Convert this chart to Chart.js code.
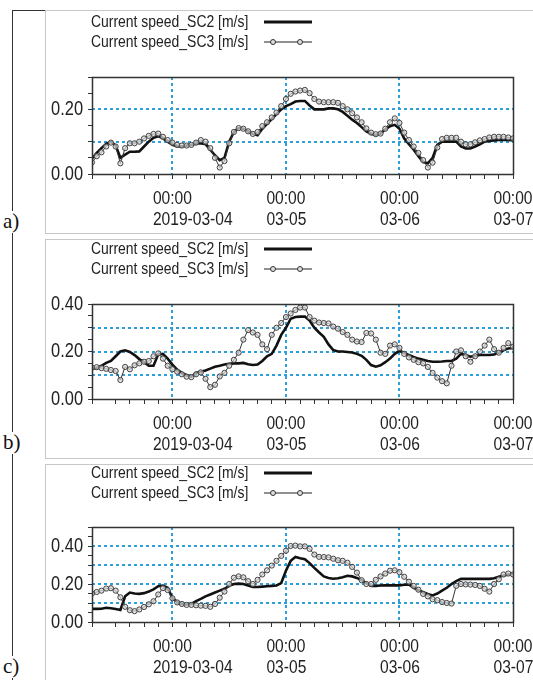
<!DOCTYPE html>
<html>
<head>
<meta charset="utf-8">
<script src="https://cdn.jsdelivr.net/npm/chart.js@4.4.1/dist/chart.umd.min.js"></script>
<style>
  body { margin: 0; width: 533px; height: 680px; overflow: hidden; background: #fff; position: relative; }
  .edge-left { position: absolute; left: 12px; top: 10px; width: 1px; height: 670px; background: #333; }
  .edge-top { position: absolute; left: 12px; top: 10px; width: 521px; height: 1px; background: #333; }
  .panel { position: absolute; left: 45px; width: 520px; border: 1px solid #c8c8c8; }
  .tag { position: absolute; left: 2px; font-family: 'Liberation Serif', serif; font-size: 21px; line-height: 20px; background: #fff; color: #111; padding: 0 1px 2px 1px; }
  .legend { position: absolute; left: 91px; font-family: 'Liberation Sans', Arial, sans-serif; font-size: 17px; color: #222; }
  .legend .row { position: relative; height: 20px; width: 230px; }
  .legend .row span { position: absolute; left: 0; top: 0; line-height: 20px; white-space: nowrap; transform: scaleX(0.82); transform-origin: 0 50%; }
  .legend .row svg { position: absolute; left: 173px; top: 4px; }
  .chartbox { position: absolute; left: 45px; width: 488px; }
</style>
</head>
<body>
<div class="edge-left"></div>
<div class="edge-top"></div>

<div class="panel" style="top:10px;height:222px;"></div>
<div class="panel" style="top:239px;height:218px;"></div>
<div class="panel" style="top:464px;height:230px;"></div>

<div class="chartbox" style="top:10px;height:222px;"><canvas id="chartA"></canvas></div>
<div class="chartbox" style="top:239px;height:218px;"><canvas id="chartB"></canvas></div>
<div class="chartbox" style="top:464px;height:216px;"><canvas id="chartC"></canvas></div>

<div class="legend" style="top:12px;">
  <div class="row"><span>Current speed_SC2 [m/s]</span><svg width="50" height="12"><line x1="0" y1="6" x2="48" y2="6" stroke="#111" stroke-width="3"/></svg></div>
  <div class="row"><span>Current speed_SC3 [m/s]</span><svg width="50" height="12"><line x1="0" y1="6" x2="48" y2="6" stroke="#222" stroke-width="1.2"/><circle cx="9" cy="6" r="2.5" fill="#ddd" stroke="#333"/><circle cx="36" cy="6" r="2.5" fill="#ddd" stroke="#333"/></svg></div>
</div>
<div class="legend" style="top:239px;">
  <div class="row"><span>Current speed_SC2 [m/s]</span><svg width="50" height="12"><line x1="0" y1="6" x2="48" y2="6" stroke="#111" stroke-width="3"/></svg></div>
  <div class="row"><span>Current speed_SC3 [m/s]</span><svg width="50" height="12"><line x1="0" y1="6" x2="48" y2="6" stroke="#222" stroke-width="1.2"/><circle cx="9" cy="6" r="2.5" fill="#ddd" stroke="#333"/><circle cx="36" cy="6" r="2.5" fill="#ddd" stroke="#333"/></svg></div>
</div>
<div class="legend" style="top:463px;">
  <div class="row"><span>Current speed_SC2 [m/s]</span><svg width="50" height="12"><line x1="0" y1="6" x2="48" y2="6" stroke="#111" stroke-width="3"/></svg></div>
  <div class="row"><span>Current speed_SC3 [m/s]</span><svg width="50" height="12"><line x1="0" y1="6" x2="48" y2="6" stroke="#222" stroke-width="1.2"/><circle cx="9" cy="6" r="2.5" fill="#ddd" stroke="#333"/><circle cx="36" cy="6" r="2.5" fill="#ddd" stroke="#333"/></svg></div>
</div>

<div class="tag" style="top:211px;">a)</div>
<div class="tag" style="top:432px;">b)</div>
<div class="tag" style="top:656px;">c)</div>

<script>
// time axis: hours counted from 2019-03-03 00:00, hourly samples
const firstHour = 7;
const lastHour = 96;
const dayTicks = [24, 48, 72, 96];
const timeLabels = ['00:00', '00:00', '00:00', '00:00'];
const dateLabels = ['2019-03-04', '03-05', '03-06', '03-07'];
const yLabelValues = [0, 0.2, 0.4];

// a) current speed [m/s]
const sc2A = [
    0.048, 0.065, 0.08, 0.093, 0.1, 0.088, 0.05, 0.06, 0.069, 0.069,
    0.07, 0.085, 0.1, 0.112, 0.117, 0.11, 0.1, 0.09, 0.085, 0.085,
    0.088, 0.09, 0.094, 0.095, 0.092, 0.075, 0.058, 0.043, 0.05, 0.1,
    0.13, 0.142, 0.14, 0.132, 0.124, 0.12, 0.14, 0.155, 0.17, 0.185,
    0.2, 0.21, 0.216, 0.224, 0.226, 0.226, 0.212, 0.2, 0.2, 0.2,
    0.203, 0.203, 0.2, 0.192, 0.18, 0.168, 0.158, 0.145, 0.132, 0.124,
    0.12, 0.125, 0.138, 0.148, 0.152, 0.14, 0.11, 0.092, 0.075, 0.055,
    0.037, 0.033, 0.05, 0.09, 0.1, 0.1, 0.1, 0.1, 0.085, 0.079,
    0.079, 0.085, 0.092, 0.1, 0.102, 0.104, 0.105, 0.105, 0.105, 0.104
];
const sc3A = [
    0.036, 0.055, 0.067, 0.085, 0.097, 0.085, 0.033, 0.08, 0.095, 0.095,
    0.1, 0.11, 0.118, 0.124, 0.125, 0.115, 0.105, 0.097, 0.09, 0.088,
    0.088, 0.09, 0.097, 0.105, 0.1, 0.08, 0.05, 0.02, 0.04, 0.095,
    0.13, 0.142, 0.14, 0.132, 0.124, 0.13, 0.148, 0.16, 0.175, 0.19,
    0.21, 0.232, 0.248, 0.255, 0.258, 0.26, 0.25, 0.232, 0.224, 0.222,
    0.222, 0.222, 0.22, 0.21, 0.2, 0.188, 0.175, 0.16, 0.141, 0.128,
    0.123, 0.125, 0.14, 0.16, 0.172, 0.158, 0.128, 0.105, 0.085, 0.065,
    0.043, 0.02, 0.035, 0.082, 0.108, 0.112, 0.112, 0.112, 0.1, 0.092,
    0.092, 0.098, 0.104, 0.108, 0.113, 0.115, 0.115, 0.115, 0.113, 0.11
];

// b)
const sc2B = [
    0.128, 0.13, 0.14, 0.152, 0.16, 0.18, 0.2, 0.205, 0.198, 0.185,
    0.168, 0.155, 0.14, 0.14, 0.188, 0.19, 0.17, 0.145, 0.124, 0.11,
    0.1, 0.094, 0.11, 0.115, 0.12, 0.128, 0.136, 0.14, 0.145, 0.148,
    0.15, 0.15, 0.152, 0.146, 0.143, 0.145, 0.16, 0.18, 0.19, 0.225,
    0.27, 0.3, 0.338, 0.345, 0.347, 0.347, 0.33, 0.3, 0.28, 0.262,
    0.23, 0.206, 0.2, 0.2, 0.198, 0.196, 0.19, 0.182, 0.165, 0.143,
    0.136, 0.142, 0.155, 0.17, 0.19, 0.203, 0.195, 0.185, 0.177, 0.17,
    0.165, 0.16, 0.157, 0.157, 0.158, 0.16, 0.16, 0.17, 0.19, 0.185,
    0.178, 0.182, 0.185, 0.185, 0.185, 0.187, 0.195, 0.205, 0.213, 0.215
];
const sc3B = [
    0.132, 0.134, 0.13, 0.127, 0.122, 0.118, 0.08, 0.135, 0.125, 0.142,
    0.15, 0.157, 0.16, 0.18, 0.192, 0.17, 0.14, 0.125, 0.115, 0.104,
    0.094, 0.092, 0.104, 0.112, 0.085, 0.05, 0.06, 0.095, 0.11, 0.14,
    0.165, 0.195, 0.25, 0.29, 0.28, 0.27, 0.23, 0.21, 0.27, 0.3,
    0.32, 0.345, 0.36, 0.375, 0.385, 0.385, 0.345, 0.33, 0.322, 0.32,
    0.318, 0.305, 0.296, 0.282, 0.27, 0.25, 0.242, 0.24, 0.278, 0.276,
    0.25, 0.195, 0.19, 0.225, 0.23, 0.215, 0.19, 0.175, 0.165, 0.155,
    0.15, 0.135, 0.11, 0.09, 0.075, 0.066, 0.14, 0.2, 0.205, 0.18,
    0.157, 0.18, 0.2, 0.225, 0.25, 0.21, 0.195, 0.215, 0.235, 0.22
];

// c)
const sc2C = [
    0.069, 0.069, 0.07, 0.075, 0.072, 0.068, 0.063, 0.135, 0.155, 0.15,
    0.148, 0.152, 0.16, 0.172, 0.188, 0.192, 0.18, 0.125, 0.105, 0.095,
    0.092, 0.095, 0.11, 0.122, 0.135, 0.145, 0.155, 0.165, 0.175, 0.19,
    0.2, 0.202, 0.2, 0.192, 0.185, 0.184, 0.186, 0.188, 0.19, 0.192,
    0.205, 0.27, 0.322, 0.342, 0.335, 0.33, 0.31, 0.285, 0.262, 0.24,
    0.232, 0.228, 0.23, 0.236, 0.243, 0.24, 0.232, 0.22, 0.205, 0.19,
    0.19, 0.192, 0.193, 0.193, 0.193, 0.193, 0.196, 0.198, 0.18, 0.168,
    0.157, 0.147, 0.14, 0.15, 0.165, 0.18, 0.2, 0.215, 0.227, 0.227,
    0.227, 0.227, 0.227, 0.227, 0.227, 0.23, 0.238, 0.245, 0.25, 0.254
];
const sc3C = [
    0.15, 0.158, 0.165, 0.176, 0.178, 0.165, 0.13, 0.08, 0.062, 0.057,
    0.066, 0.079, 0.093, 0.109, 0.145, 0.178, 0.168, 0.125, 0.103, 0.095,
    0.09, 0.09, 0.088, 0.086, 0.085, 0.08, 0.095, 0.128, 0.16, 0.2,
    0.233, 0.24, 0.235, 0.215, 0.2, 0.222, 0.25, 0.272, 0.297, 0.322,
    0.348, 0.375, 0.4, 0.402, 0.398, 0.398, 0.385, 0.355, 0.343, 0.342,
    0.34, 0.333, 0.325, 0.322, 0.312, 0.29, 0.26, 0.22, 0.2, 0.2,
    0.222, 0.24, 0.255, 0.27, 0.272, 0.262, 0.238, 0.212, 0.19, 0.17,
    0.148, 0.135, 0.12, 0.115, 0.105, 0.1, 0.097, 0.19, 0.2, 0.198,
    0.197, 0.195, 0.19, 0.175, 0.16, 0.2, 0.225, 0.25, 0.255, 0.25
];

const SANS = "'Liberation Sans', Arial, sans-serif";
const NARROW = 0.82;          // horizontal squeeze, Arial -> Arial Narrow
const GRID_BLUE = '#2f9fdc';

// text squeezed horizontally to mimic a narrow face
function narrowText(ctx, text, x, y, align) {
    const w = ctx.measureText(text).width * NARROW;
    let left = x;
    if (align === 'center') left = x - w / 2;
    if (align === 'right') left = x - w;
    ctx.save();
    ctx.translate(left, y);
    ctx.scale(NARROW, 1);
    ctx.textAlign = 'left';
    ctx.fillText(text, 0, 0);
    ctx.restore();
    return w;
}

// dashed grid, plot frame and axis labels
const decorPlugin = {
    id: 'decor',
    beforeDatasetsDraw(chart) {
        const { ctx, chartArea: a, scales: { x, y } } = chart;
        ctx.save();
        ctx.strokeStyle = GRID_BLUE;
        ctx.lineWidth = 2;
        ctx.setLineDash([3, 3]);
        dayTicks.filter(d => d < lastHour).forEach(d => {
            const px = Math.round(x.getPixelForValue(d));
            ctx.beginPath();
            ctx.moveTo(px, a.top);
            ctx.lineTo(px, a.bottom);
            ctx.stroke();
        });
        for (let k = 1; k * 0.1 < y.max - 1e-6; k++) {
            const py = Math.round(y.getPixelForValue(k * 0.1));
            ctx.beginPath();
            ctx.moveTo(a.left, py);
            ctx.lineTo(a.right, py);
            ctx.stroke();
        }
        ctx.restore();
    },
    afterDraw(chart) {
        const { ctx, chartArea: a, scales: { x, y } } = chart;
        ctx.save();
        ctx.strokeStyle = '#333';
        ctx.lineWidth = 1.5;
        ctx.strokeRect(Math.round(a.left) + 0.5, Math.round(a.top) + 0.5,
            Math.round(a.right - a.left), Math.round(a.bottom - a.top));

        ctx.fillStyle = '#222';
        ctx.textBaseline = 'middle';
        ctx.font = '20px ' + SANS;
        yLabelValues.filter(v => v <= y.max + 1e-6).forEach(v => {
            narrowText(ctx, v.toFixed(2), a.left - 9, y.getPixelForValue(v), 'right');
        });

        ctx.font = '19px ' + SANS;
        dayTicks.forEach((d, i) => {
            const px = x.getPixelForValue(d);
            const w = ctx.measureText(timeLabels[i]).width * NARROW;
            narrowText(ctx, timeLabels[i], px - w / 2, a.bottom + 25, 'left');
            narrowText(ctx, dateLabels[i], px - w / 2, a.bottom + 46, 'left');
        });
        ctx.restore();
    }
};

function toPoints(values) {
    return values.map((v, i) => ({ x: firstHour + i, y: v }));
}

function makeChart(id, sc2, sc3, yMax, padTop, xHeight) {
    const ctx = document.getElementById(id).getContext('2d');
    return new Chart(ctx, {
        type: 'line',
        data: {
            datasets: [
                {
                    label: 'Current speed_SC3 [m/s]',
                    data: toPoints(sc3),
                    borderColor: '#333',
                    borderWidth: 1,
                    pointRadius: 2.6,
                    pointBorderWidth: 1,
                    pointBorderColor: '#444',
                    pointBackgroundColor: 'rgba(215,215,215,0.7)',
                    order: 0
                },
                {
                    label: 'Current speed_SC2 [m/s]',
                    data: toPoints(sc2),
                    borderColor: '#111',
                    borderWidth: 2.6,
                    pointRadius: 0,
                    order: 1
                }
            ]
        },
        options: {
            responsive: true,
            maintainAspectRatio: false,
            animation: false,
            layout: { padding: { top: padTop, right: 20, left: 0, bottom: 0 } },
            plugins: { legend: { display: false }, tooltip: { enabled: false } },
            scales: {
                x: {
                    type: 'linear',
                    min: firstHour,
                    max: lastHour,
                    afterFit: s => { s.height = xHeight; },
                    ticks: { stepSize: 3, display: false, autoSkip: false },
                    border: { display: false },
                    grid: {
                        drawOnChartArea: false,
                        color: '#333',
                        tickColor: '#333',
                        tickLength: 5
                    }
                },
                y: {
                    min: 0,
                    max: yMax,
                    afterFit: s => { s.width = 47; },
                    ticks: { stepSize: 0.05, display: false, autoSkip: false },
                    border: { display: false },
                    grid: {
                        drawOnChartArea: false,
                        color: '#333',
                        tickColor: '#333',
                        tickLength: 4
                    }
                }
            }
        },
        plugins: [decorPlugin]
    });
}

makeChart('chartA', sc2A, sc3A, 0.3, 67, 58);
makeChart('chartB', sc2B, sc3B, 0.4, 65, 58);
makeChart('chartC', sc2C, sc3C, 0.5, 63, 58);
</script>
</body>
</html>
